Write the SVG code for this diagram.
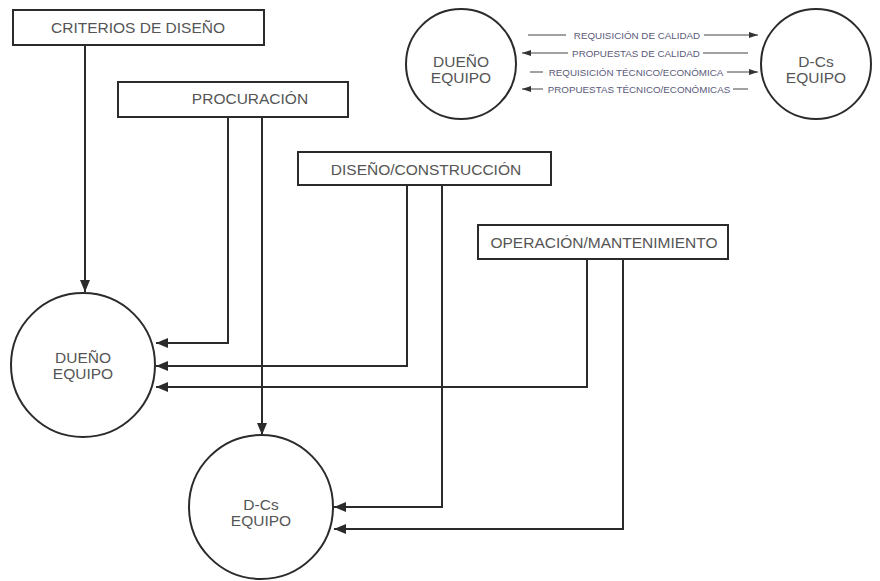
<svg xmlns="http://www.w3.org/2000/svg" width="880" height="581" viewBox="0 0 880 581">
<defs>
<marker id="ah" markerWidth="12" markerHeight="10" refX="12" refY="5" orient="auto" markerUnits="userSpaceOnUse">
<path d="M0,0 L12,5 L0,10 Z" fill="#2b2b2b"/>
</marker>
<marker id="as" markerWidth="9" markerHeight="6" refX="9" refY="3" orient="auto" markerUnits="userSpaceOnUse">
<path d="M0,0 L9,3 L0,6 Z" fill="#333"/>
</marker>
</defs>
<style>
.box{fill:#fff;stroke:#2b2b2b;stroke-width:2}
.circ{fill:#fff;stroke:#2b2b2b;stroke-width:2}
.lbl{font-family:"Liberation Sans",Arial,sans-serif;font-size:15.5px;fill:#555;text-anchor:middle}
.sm{font-family:"Liberation Sans",Arial,sans-serif;font-size:9.8px;fill:#5a5a7a;text-anchor:middle}
.conn{fill:none;stroke:#2b2b2b;stroke-width:2}
.thin{fill:none;stroke:#444;stroke-width:1}
</style>
<rect width="880" height="581" fill="#fff"/>
<g id="connectors">
<path class="conn" d="M85,45 V292" marker-end="url(#ah)"/>
<path class="conn" d="M228,117 V343 H156" marker-end="url(#ah)"/>
<path class="conn" d="M262,117 V435" marker-end="url(#ah)"/>
<path class="conn" d="M407,185 V366 H156" marker-end="url(#ah)"/>
<path class="conn" d="M442,185 V507 H334" marker-end="url(#ah)"/>
<path class="conn" d="M587,259 V387 H156" marker-end="url(#ah)"/>
<path class="conn" d="M623,259 V529 H334" marker-end="url(#ah)"/>
<path class="thin" d="M528,35 H566"/>
<path class="thin" d="M704,35 H758" marker-end="url(#as)"/>
<path class="thin" d="M568,53 H522" marker-end="url(#as)"/>
<path class="thin" d="M703,53 H748"/>
<path class="thin" d="M530,72 H543"/>
<path class="thin" d="M727,72 H758" marker-end="url(#as)"/>
<path class="thin" d="M543,89 H522" marker-end="url(#as)"/>
<path class="thin" d="M733,89 H748"/>
</g>
<g id="criterios">
<rect class="box" x="13" y="10" width="251" height="35"/>
<text class="lbl" x="138" y="33">CRITERIOS DE DISEÑO</text>
</g>
<g id="procuracion">
<rect class="box" x="118" y="82" width="230" height="35"/>
<text class="lbl" x="250" y="104">PROCURACIÓN</text>
</g>
<g id="diseno">
<rect class="box" x="298" y="152" width="253" height="33"/>
<text class="lbl" x="426" y="175">DISEÑO/CONSTRUCCIÓN</text>
</g>
<g id="operacion">
<rect class="box" x="478" y="225" width="250" height="34"/>
<text class="lbl" x="604" y="248">OPERACIÓN/MANTENIMIENTO</text>
</g>
<g id="dueno">
<circle class="circ" cx="83" cy="365" r="72"/>
<text class="lbl" x="83" y="363">DUEÑO</text>
<text class="lbl" x="83" y="379">EQUIPO</text>
</g>
<g id="dcs">
<circle class="circ" cx="261" cy="507" r="72"/>
<text class="lbl" x="261" y="510">D-Cs</text>
<text class="lbl" x="261" y="526">EQUIPO</text>
</g>
<g id="dueno-top">
<circle class="circ" cx="461" cy="64" r="55"/>
<text class="lbl" x="461" y="67">DUEÑO</text>
<text class="lbl" x="461" y="83">EQUIPO</text>
</g>
<g id="dcs-top">
<circle class="circ" cx="816" cy="64" r="55"/>
<text class="lbl" x="816" y="67">D-Cs</text>
<text class="lbl" x="816" y="83">EQUIPO</text>
</g>
<g id="labels">
<text class="sm" x="637" y="38.5">REQUISICIÓN DE CALIDAD</text>
<text class="sm" x="636" y="56.5">PROPUESTAS DE CALIDAD</text>
<text class="sm" x="636" y="75.5">REQUISICIÓN TÉCNICO/ECONÓMICA</text>
<text class="sm" x="639" y="92.5">PROPUESTAS TÉCNICO/ECONÓMICAS</text>
</g>
</svg>
